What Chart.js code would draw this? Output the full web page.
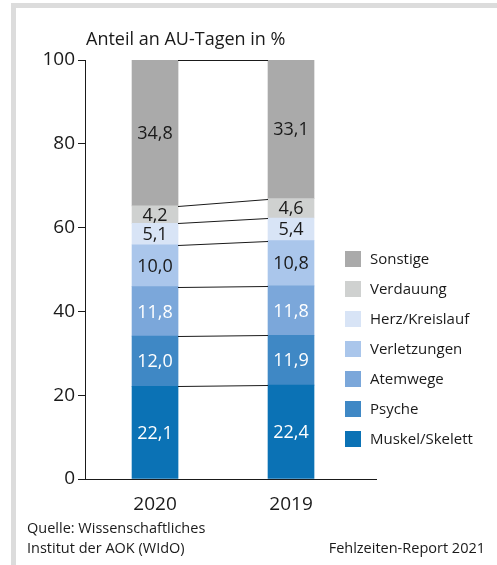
<!DOCTYPE html>
<html><head><meta charset="utf-8">
<script src="https://cdn.jsdelivr.net/npm/chart.js@4/dist/chart.umd.min.js"></script>
<style>
html,body{margin:0;padding:0;background:#fff;}
#frame{position:absolute;left:11px;top:3px;width:600px;height:560px;border:5px solid #dcdcdc;box-sizing:content-box;}
#wrap{position:absolute;left:0;top:0;width:497px;height:565px;}
</style></head>
<body>
<div id="frame"></div>
<div id="wrap"><canvas id="c" width="497" height="565"></canvas></div>
<script>
const categories = ['2020', '2019'];
const seriesNames = ['Muskel/Skelett', 'Psyche', 'Atemwege', 'Verletzungen', 'Herz/Kreislauf', 'Verdauung', 'Sonstige'];
const muskel = [22.1, 22.4];
const psyche = [12.0, 11.9];
const atemwege = [11.8, 11.8];
const verletzungen = [10.0, 10.8];
const herz = [5.1, 5.4];
const verdauung = [4.2, 4.6];
const sonstige = [34.8, 33.1];
const seriesValues = [muskel, psyche, atemwege, verletzungen, herz, verdauung, sonstige];
const seriesColors = ['#0b72b5', '#3f88c5', '#7ba7da', '#aac6eb', '#d8e4f6', '#cfd1d0', '#aaaaaa'];
const labelColors = ['#ffffff', '#ffffff', '#ffffff', '#1a1a1a', '#1a1a1a', '#1a1a1a', '#1a1a1a'];
const yTicks = [0, 20, 40, 60, 80, 100];
const titleText = 'Anteil an AU-Tagen in %';
const FONT = '"Open Sans", sans-serif';
const TXT = '#1a1a1a';

const datasets = seriesNames.map((n, i) => ({
  label: n,
  data: seriesValues[i].map((v, j) => ({x: j, y: v})),
  backgroundColor: seriesColors[i],
  borderWidth: 0,
  barThickness: 46
}));

const extras = {
  id: 'extras',
  afterDatasetsDraw(chart) {
    const ctx = chart.ctx;
    const ys = chart.scales.y;
    const m0 = chart.getDatasetMeta(0);
    ctx.save();
    ctx.strokeStyle = '#1a1a1a';
    ctx.lineWidth = 1;
    const cum = [0, 0];
    for (let i = 0; i < seriesValues.length; i++) {
      cum[0] += seriesValues[i][0];
      cum[1] += seriesValues[i][1];
      const b0 = m0.data[0], b1 = m0.data[1];
      const x0 = b0.x + b0.width / 2, x1 = b1.x - b1.width / 2;
      ctx.beginPath();
      ctx.moveTo(x0, Math.round(ys.getPixelForValue(cum[0])) + 0.5);
      ctx.lineTo(x1, Math.round(ys.getPixelForValue(cum[1])) + 0.5);
      ctx.stroke();
    }
    ctx.font = '18px ' + FONT;
    ctx.textAlign = 'center';
    ctx.textBaseline = 'middle';
    chart.data.datasets.forEach((ds, i) => {
      const meta = chart.getDatasetMeta(i);
      meta.data.forEach((el, j) => {
        ctx.fillStyle = labelColors[i];
        const v = seriesValues[i][j];
        ctx.fillText(v.toFixed(1).replace('.', ','), el.x, (el.y + el.base) / 2 + 1);
      });
    });
    ctx.fillStyle = TXT;
    ctx.textAlign = 'left';
    ctx.textBaseline = 'alphabetic';
    ctx.font = '18px ' + FONT;
    ctx.fillText(titleText, 86, 45);
    ctx.font = '15px ' + FONT;
    ctx.textBaseline = 'middle';
    for (let k = 0; k < seriesNames.length; k++) {
      const i = seriesNames.length - 1 - k;
      const cy = 259 + 30 * k;
      ctx.fillStyle = seriesColors[i];
      ctx.fillRect(345, cy - 8, 16, 16);
      ctx.fillStyle = TXT;
      ctx.fillText(seriesNames[i], 370, cy + 1);
    }
    ctx.font = '14.5px ' + FONT;
    ctx.fillText('Quelle: Wissenschaftliches', 27, 529);
    ctx.fillText('Institut der AOK (WIdO)', 27, 549);
    ctx.textAlign = 'right';
    ctx.fillText('Fehlzeiten-Report 2021', 485, 549);
    ctx.restore();
  }
};

new Chart(document.getElementById('c'), {
  type: 'bar',
  data: { datasets },
  options: {
    responsive: false,
    animation: false,
    layout: { padding: { left: 0, top: 60, right: 121, bottom: 0 } },
    plugins: { legend: { display: false }, tooltip: { enabled: false } },
    scales: {
      x: {
        type: 'linear', stacked: true, offset: false, min: -0.515, max: 1.625,
        afterBuildTicks: s => { s.ticks = categories.map((c, i) => ({value: i})); },
        afterFit: s => { s.height = 86; },
        grid: { display: false },
        border: { display: true, color: '#1a1a1a', width: 1 },
        ticks: { callback: v => categories[v], color: TXT, font: { family: FONT, size: 19 }, padding: 6, maxRotation: 0 }
      },
      y: {
        stacked: true, min: 0, max: 100,
        afterBuildTicks: s => { s.ticks = yTicks.map(v => ({value: v})); },
        afterFit: s => { s.width = 85; },
        grid: { display: true, drawOnChartArea: false, drawTicks: true, tickLength: 7, color: '#1a1a1a' },
        border: { display: true, color: '#1a1a1a', width: 1 },
        ticks: { color: TXT, font: { family: FONT, size: 19 }, padding: 3 }
      }
    }
  },
  plugins: [extras]
});
</script>
</body></html>
